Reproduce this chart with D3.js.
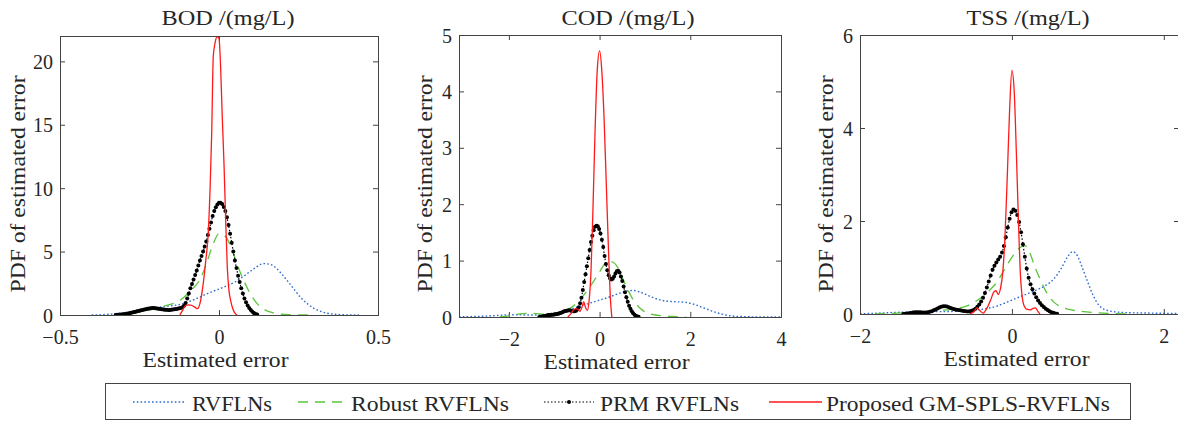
<!DOCTYPE html>
<html><head><meta charset="utf-8">
<script src="https://cdn.jsdelivr.net/npm/d3@7"></script>
<style>body{margin:0;background:#fff}svg{display:block}</style>
</head><body>
<svg id="chart" width="1178" height="421"></svg>
<script>
// ---------------- DATA ----------------
const panelTitles = ["BOD /(mg/L)", "COD /(mg/L)", "TSS /(mg/L)"];
const seriesNames = ["RVFLNs", "Robust RVFLNs", "PRM RVFLNs", "Proposed GM-SPLS-RVFLNs"];
const xLabelText = "Estimated error";
const yLabelText = "PDF of estimated error";
const xDomains = [[-0.5, 0.5], [-3.1, 4], [-2, 2.2]];
const yDomains = [[0, 22], [0, 5], [0, 6]];
const xTickValues = [[-0.5, 0, 0.5], [-2, 0, 2, 4], [-2, 0, 2]];
const yTickValues = [[0, 5, 10, 15, 20], [0, 1, 2, 3, 4, 5], [0, 2, 4, 6]];

// BOD
const bodRvfl = [[-0.40,0],[-0.37,0.02],[-0.34,0.07],[-0.31,0.15],[-0.28,0.26],[-0.25,0.38],[-0.22,0.5],[-0.19,0.6],[-0.16,0.7],[-0.13,0.8],[-0.10,1.0],[-0.07,1.3],[-0.04,1.65],[-0.01,1.95],[0.02,2.25],[0.05,2.6],[0.08,3.1],[0.11,3.65],[0.14,4.05],[0.16,4.0],[0.18,3.7],[0.20,3.15],[0.22,2.55],[0.24,1.9],[0.26,1.3],[0.28,0.85],[0.30,0.5],[0.32,0.28],[0.34,0.14],[0.37,0.05],[0.40,0.01],[0.44,0]];
const bodRobust = [[-0.33,0.02],[-0.30,0.06],[-0.27,0.15],[-0.24,0.28],[-0.21,0.45],[-0.18,0.65],[-0.15,0.85],[-0.12,1.2],[-0.09,1.9],[-0.06,2.8],[-0.04,4.0],[-0.02,5.5],[0,6.4],[0.02,6.2],[0.04,5.2],[0.06,3.8],[0.08,2.6],[0.10,1.6],[0.12,0.9],[0.14,0.48],[0.16,0.24],[0.19,0.09],[0.22,0.03],[0.26,0.01],[0.28,0]];
const bodPrmStart = -0.325, bodPrmStep = 0.005;
const bodPrm = [0.00,0.01,0.02,0.03,0.045,0.06,0.08,0.10,0.125,0.15,0.18,0.21,0.245,0.28,0.31,0.34,0.37,0.40,0.43,0.46,0.49,0.52,0.54,0.55,0.545,0.53,0.51,0.49,0.47,0.45,0.43,0.415,0.405,0.40,0.40,0.41,0.43,0.45,0.47,0.50,0.53,0.56,0.62,0.72,0.95,1.30,1.70,2.10,2.45,2.80,3.15,3.50,3.90,4.30,4.65,5.00,5.40,5.80,6.30,6.80,7.30,7.80,8.20,8.50,8.72,8.85,8.85,8.75,8.52,8.20,7.70,7.10,6.40,5.70,5.00,4.30,3.70,3.10,2.60,2.10,1.70,1.30,1.00,0.75,0.55,0.40,0.26,0.15,0.08,0.03];
const bodProposed = [[-0.123,0],[-0.115,0.35],[-0.105,0.75],[-0.095,0.8],[-0.085,0.75],[-0.075,0.6],[-0.068,0.5],[-0.06,0.9],[-0.05,2.4],[-0.042,4.2],[-0.034,6.4],[-0.028,10.0],[-0.023,14.3],[-0.018,20.4],[-0.012,21.5],[-0.006,21.95],[0,21.8],[0.005,19.6],[0.01,15.8],[0.016,11.7],[0.021,7.5],[0.026,3.8],[0.031,2.0],[0.037,1.1],[0.044,0.45],[0.05,0.15],[0.057,0]];

// COD
const codRvfl = [[-3.1,0.004],[-2.8,0.008],[-2.5,0.015],[-2.2,0.03],[-2.0,0.038],[-1.8,0.04],[-1.6,0.035],[-1.4,0.035],[-1.2,0.045],[-1.0,0.07],[-0.8,0.1],[-0.6,0.15],[-0.4,0.2],[-0.2,0.25],[0,0.3],[0.2,0.35],[0.4,0.41],[0.6,0.46],[0.75,0.47],[0.9,0.44],[1.1,0.37],[1.3,0.31],[1.5,0.28],[1.7,0.27],[1.9,0.26],[2.1,0.22],[2.3,0.16],[2.5,0.1],[2.7,0.05],[2.9,0.02],[3.2,0.006],[3.6,0.001],[4.0,0]];
const codRobust = [[-2.2,0],[-2.0,0.02],[-1.8,0.05],[-1.6,0.065],[-1.4,0.06],[-1.2,0.05],[-1.0,0.065],[-0.8,0.1],[-0.6,0.18],[-0.4,0.34],[-0.2,0.55],[0,0.8],[0.1,0.93],[0.2,0.99],[0.3,0.97],[0.4,0.88],[0.5,0.7],[0.6,0.52],[0.7,0.36],[0.8,0.24],[0.9,0.15],[1.0,0.09],[1.2,0.04],[1.4,0.02],[1.6,0.01],[1.9,0]];
const codPrmStart = -1.33, codPrmStep = 0.03;
const codPrm = [0.000,0.004,0.008,0.012,0.018,0.024,0.030,0.034,0.037,0.040,0.042,0.044,0.047,0.052,0.058,0.066,0.076,0.086,0.096,0.105,0.112,0.117,0.119,0.115,0.106,0.100,0.102,0.112,0.135,0.175,0.245,0.340,0.480,0.620,0.760,0.900,1.040,1.190,1.330,1.440,1.540,1.600,1.620,1.610,1.560,1.480,1.370,1.240,1.080,0.940,0.830,0.740,0.685,0.665,0.680,0.720,0.770,0.810,0.820,0.790,0.720,0.640,0.540,0.440,0.350,0.270,0.200,0.145,0.100,0.065,0.040,0.022,0.010,0.003];
const codProposed = [[-0.70,0],[-0.64,0.05],[-0.58,0.12],[-0.52,0.15],[-0.47,0.13],[-0.43,0.1],[-0.39,0.17],[-0.35,0.27],[-0.31,0.17],[-0.27,0.12],[-0.23,0.3],[-0.19,0.8],[-0.15,1.8],[-0.10,3.3],[-0.05,4.4],[0,4.72],[0.05,4.35],[0.10,3.5],[0.15,2.3],[0.20,1.1],[0.24,0.3],[0.27,0]];

// TSS
const tssRvfl = [[-2.0,0.005],[-1.8,0.015],[-1.6,0.03],[-1.4,0.04],[-1.2,0.045],[-1.0,0.05],[-0.8,0.055],[-0.6,0.07],[-0.4,0.1],[-0.2,0.17],[0,0.3],[0.15,0.4],[0.3,0.5],[0.45,0.62],[0.55,0.75],[0.65,0.98],[0.73,1.22],[0.8,1.34],[0.86,1.26],[0.93,0.98],[1.0,0.68],[1.07,0.4],[1.15,0.18],[1.25,0.08],[1.4,0.04],[1.6,0.025],[1.8,0.02],[2.0,0.015],[2.2,0.01]];
const tssRobust = [[-1.8,0],[-1.5,0.02],[-1.2,0.04],[-1.0,0.07],[-0.8,0.1],[-0.6,0.17],[-0.45,0.3],[-0.3,0.5],[-0.2,0.68],[-0.1,0.95],[0,1.22],[0.1,1.42],[0.17,1.47],[0.24,1.3],[0.3,1.02],[0.38,0.72],[0.46,0.45],[0.55,0.26],[0.65,0.15],[0.75,0.1],[0.9,0.06],[1.1,0.03],[1.3,0.01],[1.5,0]];
const tssPrmStart = -1.43, tssPrmStep = 0.025;
const tssPrm = [0.000,0.005,0.010,0.017,0.024,0.030,0.035,0.038,0.038,0.036,0.033,0.031,0.032,0.037,0.046,0.060,0.078,0.098,0.118,0.138,0.155,0.166,0.168,0.160,0.145,0.128,0.112,0.100,0.092,0.086,0.080,0.072,0.064,0.058,0.056,0.060,0.070,0.088,0.115,0.155,0.205,0.270,0.350,0.450,0.570,0.700,0.830,0.950,1.040,1.110,1.170,1.230,1.320,1.460,1.650,1.860,2.050,2.190,2.250,2.220,2.130,1.980,1.760,1.500,1.230,0.980,0.780,0.640,0.530,0.440,0.360,0.290,0.235,0.190,0.150,0.115,0.085,0.060,0.040,0.025,0.013,0.004];
const tssProposed = [[-0.56,0],[-0.50,0.05],[-0.46,0.13],[-0.42,0.07],[-0.38,0.02],[-0.33,0.12],[-0.28,0.3],[-0.24,0.47],[-0.21,0.5],[-0.18,0.42],[-0.15,0.55],[-0.12,0.9],[-0.09,1.7],[-0.06,3.0],[-0.03,4.4],[0,5.24],[0.03,4.8],[0.06,3.4],[0.09,1.8],[0.11,0.9],[0.13,0.45],[0.16,0.18],[0.20,0.1],[0.24,0.09],[0.28,0.12],[0.31,0.13],[0.34,0.06],[0.37,0]];

// ---------------- RENDER ----------------
const FONT = "'Liberation Serif','Times New Roman',serif";
const TXT = "#262626";
const colors = {rvfl: "#2f6bd0", robust: "#5cc43c", prm: "#000000", prop: "#ff1a1a"};

const toPairs = (start, step, ys) => ys.map((y, i) => [start + i * step, y]);

const panelData = [
  {rvfl: bodRvfl, robust: bodRobust, prm: toPairs(bodPrmStart, bodPrmStep, bodPrm), prop: bodProposed},
  {rvfl: codRvfl, robust: codRobust, prm: toPairs(codPrmStart, codPrmStep, codPrm), prop: codProposed},
  {rvfl: tssRvfl, robust: tssRobust, prm: toPairs(tssPrmStart, tssPrmStep, tssPrm), prop: tssProposed}
];

const layout = [
  {x0: 60, x1: 378, y0: 315, y1: 36, titleX: 228, titleW: 133, ylabX: 25, xlabX: 215.5},
  {x0: 459, x1: 781, y0: 317, y1: 35, titleX: 628, titleW: 133, ylabX: 432, xlabX: 616.5},
  {x0: 860, x1: 1179, y0: 314, y1: 35, titleX: 1028, titleW: 123, ylabX: 833, xlabX: 1016.5}
];

const svg = d3.select("#chart");
const defs = svg.append("defs");
const fmt = v => String(v).replace("-", "\u2212");

layout.forEach((L, i) => {
  const x = d3.scaleLinear().domain(xDomains[i]).range([L.x0, L.x1]);
  const y = d3.scaleLinear().domain(yDomains[i]).range([L.y0, L.y1]);
  const g = svg.append("g");

  defs.append("clipPath").attr("id", "clip" + i)
    .append("rect").attr("x", L.x0).attr("y", L.y1).attr("width", L.x1 - L.x0).attr("height", L.y0 - L.y1);

  // axes with inward ticks
  const ax = g.append("g").attr("transform", `translate(0,${L.y0})`)
    .call(d3.axisBottom(x).tickValues(xTickValues[i]).tickSize(-5).tickSizeOuter(0).tickFormat(fmt));
  ax.selectAll("text").attr("y", 29).attr("dy", null);
  const axT = g.append("g").attr("transform", `translate(0,${L.y1})`)
    .call(d3.axisTop(x).tickValues(xTickValues[i]).tickSize(-5).tickSizeOuter(0).tickFormat(""));
  const ay = g.append("g").attr("transform", `translate(${L.x0},0)`)
    .call(d3.axisLeft(y).tickValues(yTickValues[i]).tickSize(-5).tickSizeOuter(0).tickFormat(fmt));
  ay.selectAll("text").attr("x", -7).attr("dy", "0.35em");
  const ayR = g.append("g").attr("transform", `translate(${L.x1},0)`)
    .call(d3.axisRight(y).tickValues(yTickValues[i]).tickSize(-5).tickSizeOuter(0).tickFormat(""));
  [ax, axT, ay, ayR].forEach(a => {
    a.select(".domain").remove();
    a.selectAll("line").attr("stroke", "#444");
    a.selectAll("text").attr("font-family", FONT).attr("font-size", 20).attr("fill", TXT);
  });

  // series
  const line = d3.line().x(d => x(d[0])).y(d => y(d[1])).curve(d3.curveMonotoneX);
  const plot = g.append("g").attr("clip-path", `url(#clip${i})`);
  const D = panelData[i];
  plot.append("path").attr("d", line(D.rvfl)).attr("fill", "none")
    .attr("stroke", colors.rvfl).attr("stroke-width", 1.4).attr("stroke-dasharray", "1.6,2.2");
  plot.append("path").attr("d", line(D.robust)).attr("fill", "none")
    .attr("stroke", colors.robust).attr("stroke-width", 1.3).attr("stroke-dasharray", "10,7");
  plot.append("path").attr("d", line(D.prm)).attr("fill", "none")
    .attr("stroke", colors.prm).attr("stroke-width", 1.2).attr("stroke-dasharray", "1.5,2");
  plot.append("g").selectAll("circle").data(D.prm).join("circle")
    .attr("cx", d => x(d[0])).attr("cy", d => y(d[1])).attr("r", 2).attr("fill", colors.prm);
  plot.append("path").attr("d", line(D.prop)).attr("fill", "none")
    .attr("stroke", colors.prop).attr("stroke-width", 1.3);

  // frame
  g.append("rect").attr("x", L.x0 + 0.5).attr("y", L.y1 + 0.5)
    .attr("width", L.x1 - L.x0).attr("height", L.y0 - L.y1)
    .attr("fill", "none").attr("stroke", "#444").attr("stroke-width", 1);

  // texts
  g.append("text").attr("x", L.titleX).attr("y", 25).attr("text-anchor", "middle")
    .attr("font-family", FONT).attr("font-size", 20).attr("fill", TXT)
    .attr("textLength", L.titleW).attr("lengthAdjust", "spacingAndGlyphs").text(panelTitles[i]);
  g.append("text").attr("x", L.xlabX).attr("y", L.y0 + 52).attr("text-anchor", "middle")
    .attr("font-family", FONT).attr("font-size", 20).attr("fill", TXT)
    .attr("textLength", 146).attr("lengthAdjust", "spacingAndGlyphs").text(xLabelText);
  g.append("text").attr("transform", `translate(${L.ylabX},184) rotate(-90)`).attr("text-anchor", "middle")
    .attr("font-family", FONT).attr("font-size", 20).attr("fill", TXT)
    .attr("textLength", 217).attr("lengthAdjust", "spacingAndGlyphs").text(yLabelText);
});

// ---------------- LEGEND ----------------
const lg = svg.append("g");
lg.append("rect").attr("x", 105.5).attr("y", 383.5).attr("width", 1025).attr("height", 36)
  .attr("fill", "#fff").attr("stroke", "#444").attr("stroke-width", 1);
const legendItems = [
  {key: "rvfl", l0: 133, l1: 184, tx: 192, tw: 80, dash: "1.6,2.2", sw: 1.4},
  {key: "robust", l0: 298, l1: 348, tx: 351, tw: 158, dash: "10,7", sw: 1.3},
  {key: "prm", l0: 544, l1: 594, tx: 600, tw: 139, dash: "1.5,2", sw: 1.2},
  {key: "prop", l0: 769, l1: 822, tx: 826, tw: 284, dash: null, sw: 1.3}
];
legendItems.forEach((it, k) => {
  lg.append("line").attr("x1", it.l0).attr("x2", it.l1).attr("y1", 402).attr("y2", 402)
    .attr("stroke", colors[it.key]).attr("stroke-width", it.sw)
    .attr("stroke-dasharray", it.dash);
  if (it.key === "prm") {
    lg.append("circle").attr("cx", (it.l0 + it.l1) / 2).attr("cy", 402).attr("r", 2).attr("fill", colors.prm);
  }
  lg.append("text").attr("x", it.tx).attr("y", 411)
    .attr("font-family", FONT).attr("font-size", 20).attr("fill", TXT)
    .attr("textLength", it.tw).attr("lengthAdjust", "spacingAndGlyphs").text(seriesNames[k]);
});
</script>
</body></html>
